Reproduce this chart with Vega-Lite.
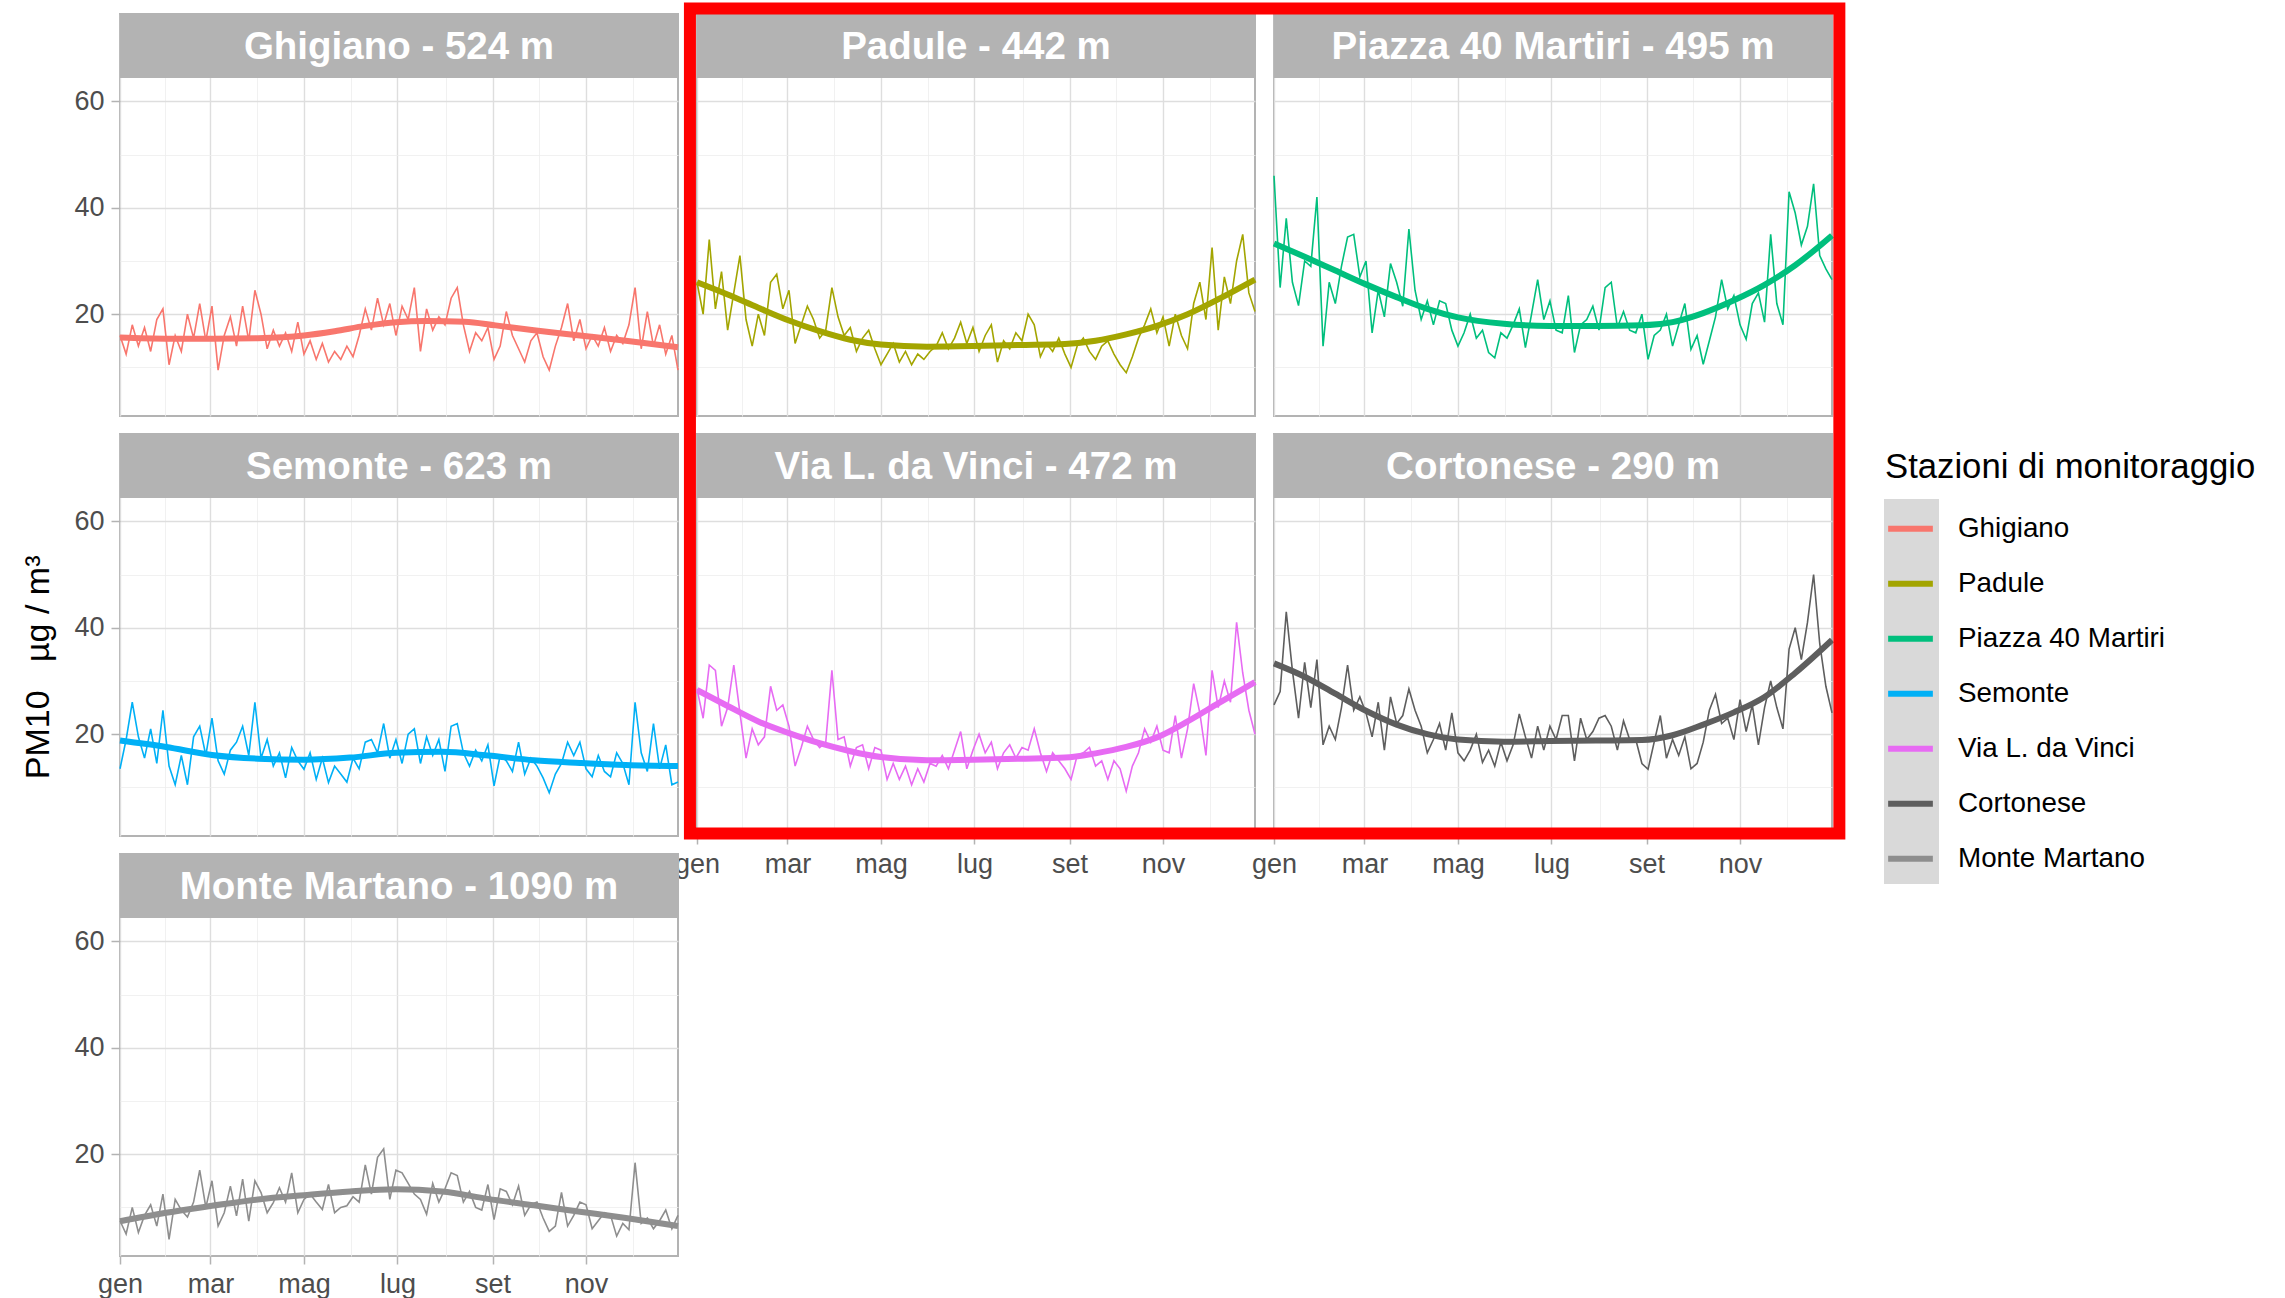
{
"$schema": "https://vega.github.io/schema/vega-lite/v6.json",
"background": "white",
"padding": {"left": 21, "top": 1, "right": 10, "bottom": 4},
"title": {"text": "PM10\u00a0\u00a0\u00a0µg / m³", "orient": "left", "anchor": "middle", "fontSize": 34, "fontWeight": "normal", "color": "#000000", "font": "Liberation Sans", "offset": 17, "dx": -17.6},
"config": {
  "font": "Liberation Sans",
  "view": {"stroke": "#B3B3B3", "strokeWidth": 2, "fill": "white"},
  "range": {"category": ["#F8766D","#A3A500","#00BF7D","#00B0F6","#E76BF3","#5E5E5E","#8E8E8E"]},
  "axis": {"domain": false, "labelFont": "Liberation Sans", "labelFontSize": 27, "labelColor": "#4D4D4D", "tickColor": "#B3B3B3", "tickWidth": 1.5}
},
"data": {"values": [
{"s":"Ghigiano","lab":"Ghigiano - 524 m"},
{"s":"Padule","lab":"Padule - 442 m"},
{"s":"Piazza 40 Martiri","lab":"Piazza 40 Martiri - 495 m"},
{"s":"Semonte","lab":"Semonte - 623 m"},
{"s":"Via L. da Vinci","lab":"Via L. da Vinci - 472 m"},
{"s":"Cortonese","lab":"Cortonese - 290 m"},
{"s":"Monte Martano","lab":"Monte Martano - 1090 m"},
{"s":"Ghigiano","d":0,"m":15.6},{"s":"Ghigiano","d":30,"m":15.4},{"s":"Ghigiano","d":60,"m":15.4},{"s":"Ghigiano","d":90,"m":15.5},{"s":"Ghigiano","d":120,"m":16.0},{"s":"Ghigiano","d":140,"m":16.8},{"s":"Ghigiano","d":160,"m":17.8},{"s":"Ghigiano","d":180,"m":18.5},{"s":"Ghigiano","d":200,"m":18.7},{"s":"Ghigiano","d":225,"m":18.6},{"s":"Ghigiano","d":245,"m":17.9},{"s":"Ghigiano","d":270,"m":17.0},{"s":"Ghigiano","d":300,"m":16.0},{"s":"Ghigiano","d":330,"m":15.0},{"s":"Ghigiano","d":364,"m":13.8},
{"s":"Padule","d":0,"m":26},{"s":"Padule","d":20,"m":23.7},{"s":"Padule","d":40,"m":21.2},{"s":"Padule","d":60,"m":18.8},{"s":"Padule","d":80,"m":16.8},{"s":"Padule","d":100,"m":15.2},{"s":"Padule","d":120,"m":14.3},{"s":"Padule","d":150,"m":13.9},{"s":"Padule","d":180,"m":14.0},{"s":"Padule","d":210,"m":14.2},{"s":"Padule","d":240,"m":14.4},{"s":"Padule","d":260,"m":15.0},{"s":"Padule","d":280,"m":16.2},{"s":"Padule","d":300,"m":17.8},{"s":"Padule","d":320,"m":20.0},{"s":"Padule","d":340,"m":22.8},{"s":"Padule","d":364,"m":26.5},
{"s":"Piazza 40 Martiri","d":0,"m":33.3},{"s":"Piazza 40 Martiri","d":20,"m":30.8},{"s":"Piazza 40 Martiri","d":40,"m":28.2},{"s":"Piazza 40 Martiri","d":60,"m":25.6},{"s":"Piazza 40 Martiri","d":80,"m":23.2},{"s":"Piazza 40 Martiri","d":100,"m":21.0},{"s":"Piazza 40 Martiri","d":120,"m":19.4},{"s":"Piazza 40 Martiri","d":150,"m":18.2},{"s":"Piazza 40 Martiri","d":180,"m":17.8},{"s":"Piazza 40 Martiri","d":210,"m":17.8},{"s":"Piazza 40 Martiri","d":240,"m":17.9},{"s":"Piazza 40 Martiri","d":260,"m":18.5},{"s":"Piazza 40 Martiri","d":280,"m":20.2},{"s":"Piazza 40 Martiri","d":300,"m":22.6},{"s":"Piazza 40 Martiri","d":320,"m":25.5},{"s":"Piazza 40 Martiri","d":340,"m":29.2},{"s":"Piazza 40 Martiri","d":364,"m":34.8},
{"s":"Semonte","d":0,"m":18.8},{"s":"Semonte","d":30,"m":17.6},{"s":"Semonte","d":60,"m":16.1},{"s":"Semonte","d":90,"m":15.4},{"s":"Semonte","d":120,"m":15.2},{"s":"Semonte","d":150,"m":15.6},{"s":"Semonte","d":180,"m":16.5},{"s":"Semonte","d":210,"m":16.7},{"s":"Semonte","d":240,"m":16.0},{"s":"Semonte","d":270,"m":15.1},{"s":"Semonte","d":300,"m":14.6},{"s":"Semonte","d":330,"m":14.2},{"s":"Semonte","d":364,"m":14.0},
{"s":"Via L. da Vinci","d":0,"m":28.3},{"s":"Via L. da Vinci","d":20,"m":25.3},{"s":"Via L. da Vinci","d":40,"m":22.4},{"s":"Via L. da Vinci","d":60,"m":20.2},{"s":"Via L. da Vinci","d":80,"m":18.3},{"s":"Via L. da Vinci","d":100,"m":16.8},{"s":"Via L. da Vinci","d":120,"m":15.7},{"s":"Via L. da Vinci","d":150,"m":15.1},{"s":"Via L. da Vinci","d":180,"m":15.2},{"s":"Via L. da Vinci","d":210,"m":15.4},{"s":"Via L. da Vinci","d":240,"m":15.6},{"s":"Via L. da Vinci","d":260,"m":16.4},{"s":"Via L. da Vinci","d":280,"m":17.6},{"s":"Via L. da Vinci","d":300,"m":19.4},{"s":"Via L. da Vinci","d":320,"m":22.4},{"s":"Via L. da Vinci","d":340,"m":25.8},{"s":"Via L. da Vinci","d":364,"m":29.8},
{"s":"Cortonese","d":0,"m":33.3},{"s":"Cortonese","d":20,"m":30.8},{"s":"Cortonese","d":40,"m":27.6},{"s":"Cortonese","d":60,"m":24.4},{"s":"Cortonese","d":80,"m":21.8},{"s":"Cortonese","d":100,"m":20.0},{"s":"Cortonese","d":120,"m":19.0},{"s":"Cortonese","d":150,"m":18.6},{"s":"Cortonese","d":180,"m":18.7},{"s":"Cortonese","d":210,"m":18.8},{"s":"Cortonese","d":240,"m":18.9},{"s":"Cortonese","d":260,"m":19.8},{"s":"Cortonese","d":280,"m":21.8},{"s":"Cortonese","d":300,"m":24.1},{"s":"Cortonese","d":320,"m":27.0},{"s":"Cortonese","d":340,"m":31.5},{"s":"Cortonese","d":364,"m":37.7},
{"s":"Monte Martano","d":0,"m":7.4},{"s":"Monte Martano","d":30,"m":9.0},{"s":"Monte Martano","d":60,"m":10.3},{"s":"Monte Martano","d":90,"m":11.5},{"s":"Monte Martano","d":120,"m":12.3},{"s":"Monte Martano","d":150,"m":13.0},{"s":"Monte Martano","d":180,"m":13.4},{"s":"Monte Martano","d":210,"m":13.0},{"s":"Monte Martano","d":240,"m":11.6},{"s":"Monte Martano","d":270,"m":10.4},{"s":"Monte Martano","d":300,"m":9.2},{"s":"Monte Martano","d":330,"m":8.0},{"s":"Monte Martano","d":364,"m":6.5},
{"s":"Ghigiano","d":0,"v":16},{"s":"Ghigiano","d":4,"v":12.5},{"s":"Ghigiano","d":8,"v":18},{"s":"Ghigiano","d":12,"v":14},{"s":"Ghigiano","d":16,"v":17.5},{"s":"Ghigiano","d":20,"v":13},{"s":"Ghigiano","d":24,"v":19},{"s":"Ghigiano","d":28,"v":21},{"s":"Ghigiano","d":32,"v":10.5},{"s":"Ghigiano","d":36,"v":16},
{"s":"Ghigiano","d":40,"v":13},{"s":"Ghigiano","d":44,"v":20},{"s":"Ghigiano","d":48,"v":15.5},{"s":"Ghigiano","d":52,"v":22},{"s":"Ghigiano","d":56,"v":15},{"s":"Ghigiano","d":60,"v":21.5},{"s":"Ghigiano","d":64,"v":9.5},{"s":"Ghigiano","d":68,"v":16},{"s":"Ghigiano","d":72,"v":19.5},{"s":"Ghigiano","d":76,"v":14},
{"s":"Ghigiano","d":80,"v":21.5},{"s":"Ghigiano","d":84,"v":15},{"s":"Ghigiano","d":88,"v":24.5},{"s":"Ghigiano","d":92,"v":20},{"s":"Ghigiano","d":96,"v":13.5},{"s":"Ghigiano","d":100,"v":17},{"s":"Ghigiano","d":104,"v":14},{"s":"Ghigiano","d":108,"v":16.5},{"s":"Ghigiano","d":112,"v":13},{"s":"Ghigiano","d":116,"v":18.5},
{"s":"Ghigiano","d":120,"v":12.5},{"s":"Ghigiano","d":124,"v":15},{"s":"Ghigiano","d":128,"v":11.5},{"s":"Ghigiano","d":132,"v":14.5},{"s":"Ghigiano","d":136,"v":11},{"s":"Ghigiano","d":140,"v":13},{"s":"Ghigiano","d":144,"v":11.5},{"s":"Ghigiano","d":148,"v":14},{"s":"Ghigiano","d":152,"v":12},{"s":"Ghigiano","d":156,"v":16},
{"s":"Ghigiano","d":160,"v":21},{"s":"Ghigiano","d":164,"v":17},{"s":"Ghigiano","d":168,"v":23},{"s":"Ghigiano","d":172,"v":18},{"s":"Ghigiano","d":176,"v":22},{"s":"Ghigiano","d":180,"v":16},{"s":"Ghigiano","d":184,"v":21.5},{"s":"Ghigiano","d":188,"v":19},{"s":"Ghigiano","d":192,"v":25},{"s":"Ghigiano","d":196,"v":13},
{"s":"Ghigiano","d":200,"v":21},{"s":"Ghigiano","d":204,"v":17},{"s":"Ghigiano","d":208,"v":19.5},{"s":"Ghigiano","d":212,"v":18},{"s":"Ghigiano","d":216,"v":23},{"s":"Ghigiano","d":220,"v":25},{"s":"Ghigiano","d":224,"v":18},{"s":"Ghigiano","d":228,"v":13},{"s":"Ghigiano","d":232,"v":16.5},{"s":"Ghigiano","d":236,"v":15},
{"s":"Ghigiano","d":240,"v":17.5},{"s":"Ghigiano","d":244,"v":11.5},{"s":"Ghigiano","d":248,"v":14},{"s":"Ghigiano","d":252,"v":20.5},{"s":"Ghigiano","d":256,"v":16},{"s":"Ghigiano","d":260,"v":13.5},{"s":"Ghigiano","d":264,"v":11},{"s":"Ghigiano","d":268,"v":15},{"s":"Ghigiano","d":272,"v":16.5},{"s":"Ghigiano","d":276,"v":12},
{"s":"Ghigiano","d":280,"v":9.5},{"s":"Ghigiano","d":284,"v":14},{"s":"Ghigiano","d":288,"v":17.5},{"s":"Ghigiano","d":292,"v":22},{"s":"Ghigiano","d":296,"v":15},{"s":"Ghigiano","d":300,"v":19},{"s":"Ghigiano","d":304,"v":13.5},{"s":"Ghigiano","d":308,"v":16},{"s":"Ghigiano","d":312,"v":14},{"s":"Ghigiano","d":316,"v":17.5},
{"s":"Ghigiano","d":320,"v":13},{"s":"Ghigiano","d":324,"v":16},{"s":"Ghigiano","d":328,"v":14.5},{"s":"Ghigiano","d":332,"v":18},{"s":"Ghigiano","d":336,"v":25},{"s":"Ghigiano","d":340,"v":13.5},{"s":"Ghigiano","d":344,"v":20.5},{"s":"Ghigiano","d":348,"v":14},{"s":"Ghigiano","d":352,"v":18},{"s":"Ghigiano","d":356,"v":12.5},
{"s":"Ghigiano","d":360,"v":16},{"s":"Ghigiano","d":364,"v":9.5},
{"s":"Padule","d":0,"v":26},{"s":"Padule","d":4,"v":20},{"s":"Padule","d":8,"v":34},{"s":"Padule","d":12,"v":21},{"s":"Padule","d":16,"v":28},{"s":"Padule","d":20,"v":17},{"s":"Padule","d":24,"v":24},{"s":"Padule","d":28,"v":31},{"s":"Padule","d":32,"v":19},{"s":"Padule","d":36,"v":14},
{"s":"Padule","d":40,"v":20},{"s":"Padule","d":44,"v":16},{"s":"Padule","d":48,"v":26},{"s":"Padule","d":52,"v":27.5},{"s":"Padule","d":56,"v":21},{"s":"Padule","d":60,"v":24.5},{"s":"Padule","d":64,"v":14.5},{"s":"Padule","d":68,"v":18},{"s":"Padule","d":72,"v":21.5},{"s":"Padule","d":76,"v":19},
{"s":"Padule","d":80,"v":15.5},{"s":"Padule","d":84,"v":17},{"s":"Padule","d":88,"v":25},{"s":"Padule","d":92,"v":19.5},{"s":"Padule","d":96,"v":16},{"s":"Padule","d":100,"v":17.5},{"s":"Padule","d":104,"v":13},{"s":"Padule","d":108,"v":15.5},{"s":"Padule","d":112,"v":17},{"s":"Padule","d":116,"v":13.5},
{"s":"Padule","d":120,"v":10.5},{"s":"Padule","d":124,"v":12.5},{"s":"Padule","d":128,"v":14.5},{"s":"Padule","d":132,"v":11},{"s":"Padule","d":136,"v":13},{"s":"Padule","d":140,"v":10.5},{"s":"Padule","d":144,"v":12.5},{"s":"Padule","d":148,"v":11.5},{"s":"Padule","d":152,"v":13},{"s":"Padule","d":156,"v":14},
{"s":"Padule","d":160,"v":16.5},{"s":"Padule","d":164,"v":13.5},{"s":"Padule","d":168,"v":15.5},{"s":"Padule","d":172,"v":18.5},{"s":"Padule","d":176,"v":14.5},{"s":"Padule","d":180,"v":17.5},{"s":"Padule","d":184,"v":13},{"s":"Padule","d":188,"v":16},{"s":"Padule","d":192,"v":18},{"s":"Padule","d":196,"v":11},
{"s":"Padule","d":200,"v":15},{"s":"Padule","d":204,"v":13.5},{"s":"Padule","d":208,"v":16.5},{"s":"Padule","d":212,"v":15},{"s":"Padule","d":216,"v":20},{"s":"Padule","d":220,"v":18},{"s":"Padule","d":224,"v":12},{"s":"Padule","d":228,"v":14.5},{"s":"Padule","d":232,"v":13},{"s":"Padule","d":236,"v":15.5},
{"s":"Padule","d":240,"v":12.5},{"s":"Padule","d":244,"v":10},{"s":"Padule","d":248,"v":14},{"s":"Padule","d":252,"v":15.5},{"s":"Padule","d":256,"v":13},{"s":"Padule","d":260,"v":11.5},{"s":"Padule","d":264,"v":14},{"s":"Padule","d":268,"v":15},{"s":"Padule","d":272,"v":12.5},{"s":"Padule","d":276,"v":10.5},
{"s":"Padule","d":280,"v":9},{"s":"Padule","d":284,"v":12},{"s":"Padule","d":288,"v":15.5},{"s":"Padule","d":292,"v":18},{"s":"Padule","d":296,"v":21},{"s":"Padule","d":300,"v":16.5},{"s":"Padule","d":304,"v":19.5},{"s":"Padule","d":308,"v":14},{"s":"Padule","d":312,"v":20},{"s":"Padule","d":316,"v":16},
{"s":"Padule","d":320,"v":13.5},{"s":"Padule","d":324,"v":22},{"s":"Padule","d":328,"v":26},{"s":"Padule","d":332,"v":19},{"s":"Padule","d":336,"v":32.5},{"s":"Padule","d":340,"v":17},{"s":"Padule","d":344,"v":27},{"s":"Padule","d":348,"v":22},{"s":"Padule","d":352,"v":30},{"s":"Padule","d":356,"v":35},
{"s":"Padule","d":360,"v":24},{"s":"Padule","d":364,"v":20.5},
{"s":"Piazza 40 Martiri","d":0,"v":46},{"s":"Piazza 40 Martiri","d":4,"v":25},{"s":"Piazza 40 Martiri","d":8,"v":38},{"s":"Piazza 40 Martiri","d":12,"v":26},{"s":"Piazza 40 Martiri","d":16,"v":21.6},{"s":"Piazza 40 Martiri","d":20,"v":30},{"s":"Piazza 40 Martiri","d":24,"v":29},{"s":"Piazza 40 Martiri","d":28,"v":42},{"s":"Piazza 40 Martiri","d":32,"v":14},{"s":"Piazza 40 Martiri","d":36,"v":26},
{"s":"Piazza 40 Martiri","d":40,"v":22},{"s":"Piazza 40 Martiri","d":44,"v":29},{"s":"Piazza 40 Martiri","d":48,"v":34.5},{"s":"Piazza 40 Martiri","d":52,"v":35},{"s":"Piazza 40 Martiri","d":56,"v":27},{"s":"Piazza 40 Martiri","d":60,"v":30},{"s":"Piazza 40 Martiri","d":64,"v":16.5},{"s":"Piazza 40 Martiri","d":68,"v":24.5},{"s":"Piazza 40 Martiri","d":72,"v":19.5},{"s":"Piazza 40 Martiri","d":76,"v":29.5},
{"s":"Piazza 40 Martiri","d":80,"v":26},{"s":"Piazza 40 Martiri","d":84,"v":21.5},{"s":"Piazza 40 Martiri","d":88,"v":36},{"s":"Piazza 40 Martiri","d":92,"v":24.5},{"s":"Piazza 40 Martiri","d":96,"v":19},{"s":"Piazza 40 Martiri","d":100,"v":22.5},{"s":"Piazza 40 Martiri","d":104,"v":18},{"s":"Piazza 40 Martiri","d":108,"v":22.5},{"s":"Piazza 40 Martiri","d":112,"v":22},{"s":"Piazza 40 Martiri","d":116,"v":17},
{"s":"Piazza 40 Martiri","d":120,"v":14},{"s":"Piazza 40 Martiri","d":124,"v":16.5},{"s":"Piazza 40 Martiri","d":128,"v":20},{"s":"Piazza 40 Martiri","d":132,"v":15.5},{"s":"Piazza 40 Martiri","d":136,"v":17},{"s":"Piazza 40 Martiri","d":140,"v":12.8},{"s":"Piazza 40 Martiri","d":144,"v":11.8},{"s":"Piazza 40 Martiri","d":148,"v":16.5},{"s":"Piazza 40 Martiri","d":152,"v":15.5},{"s":"Piazza 40 Martiri","d":156,"v":18},
{"s":"Piazza 40 Martiri","d":160,"v":21},{"s":"Piazza 40 Martiri","d":164,"v":13.7},{"s":"Piazza 40 Martiri","d":168,"v":20},{"s":"Piazza 40 Martiri","d":172,"v":26.5},{"s":"Piazza 40 Martiri","d":176,"v":19},{"s":"Piazza 40 Martiri","d":180,"v":22.5},{"s":"Piazza 40 Martiri","d":184,"v":17},{"s":"Piazza 40 Martiri","d":188,"v":16.5},{"s":"Piazza 40 Martiri","d":192,"v":23.5},{"s":"Piazza 40 Martiri","d":196,"v":12.8},
{"s":"Piazza 40 Martiri","d":200,"v":18},{"s":"Piazza 40 Martiri","d":204,"v":19},{"s":"Piazza 40 Martiri","d":208,"v":21.5},{"s":"Piazza 40 Martiri","d":212,"v":17},{"s":"Piazza 40 Martiri","d":216,"v":25},{"s":"Piazza 40 Martiri","d":220,"v":26},{"s":"Piazza 40 Martiri","d":224,"v":17.5},{"s":"Piazza 40 Martiri","d":228,"v":20.5},{"s":"Piazza 40 Martiri","d":232,"v":17},{"s":"Piazza 40 Martiri","d":236,"v":16.5},
{"s":"Piazza 40 Martiri","d":240,"v":20},{"s":"Piazza 40 Martiri","d":244,"v":11.5},{"s":"Piazza 40 Martiri","d":248,"v":16},{"s":"Piazza 40 Martiri","d":252,"v":17},{"s":"Piazza 40 Martiri","d":256,"v":20},{"s":"Piazza 40 Martiri","d":260,"v":14},{"s":"Piazza 40 Martiri","d":264,"v":18},{"s":"Piazza 40 Martiri","d":268,"v":22},{"s":"Piazza 40 Martiri","d":272,"v":13.4},{"s":"Piazza 40 Martiri","d":276,"v":16},
{"s":"Piazza 40 Martiri","d":280,"v":10.6},{"s":"Piazza 40 Martiri","d":284,"v":15},{"s":"Piazza 40 Martiri","d":288,"v":19.5},{"s":"Piazza 40 Martiri","d":292,"v":26.5},{"s":"Piazza 40 Martiri","d":296,"v":21},{"s":"Piazza 40 Martiri","d":300,"v":23.5},{"s":"Piazza 40 Martiri","d":304,"v":18},{"s":"Piazza 40 Martiri","d":308,"v":15.3},{"s":"Piazza 40 Martiri","d":312,"v":22},{"s":"Piazza 40 Martiri","d":316,"v":24},
{"s":"Piazza 40 Martiri","d":320,"v":18.5},{"s":"Piazza 40 Martiri","d":324,"v":35},{"s":"Piazza 40 Martiri","d":328,"v":22},{"s":"Piazza 40 Martiri","d":332,"v":18},{"s":"Piazza 40 Martiri","d":336,"v":43},{"s":"Piazza 40 Martiri","d":340,"v":39},{"s":"Piazza 40 Martiri","d":344,"v":33},{"s":"Piazza 40 Martiri","d":348,"v":36.5},{"s":"Piazza 40 Martiri","d":352,"v":44.5},{"s":"Piazza 40 Martiri","d":356,"v":31},
{"s":"Piazza 40 Martiri","d":360,"v":28.5},{"s":"Piazza 40 Martiri","d":364,"v":26.5},
{"s":"Semonte","d":0,"v":13.5},{"s":"Semonte","d":4,"v":19},{"s":"Semonte","d":8,"v":26},{"s":"Semonte","d":12,"v":19.5},{"s":"Semonte","d":16,"v":15.5},{"s":"Semonte","d":20,"v":21},{"s":"Semonte","d":24,"v":14.5},{"s":"Semonte","d":28,"v":24.5},{"s":"Semonte","d":32,"v":14},{"s":"Semonte","d":36,"v":10.5},
{"s":"Semonte","d":40,"v":16},{"s":"Semonte","d":44,"v":10.5},{"s":"Semonte","d":48,"v":19.5},{"s":"Semonte","d":52,"v":21.5},{"s":"Semonte","d":56,"v":16},{"s":"Semonte","d":60,"v":23},{"s":"Semonte","d":64,"v":15},{"s":"Semonte","d":68,"v":12.5},{"s":"Semonte","d":72,"v":17},{"s":"Semonte","d":76,"v":18.5},
{"s":"Semonte","d":80,"v":21.5},{"s":"Semonte","d":84,"v":16},{"s":"Semonte","d":88,"v":26},{"s":"Semonte","d":92,"v":15.5},{"s":"Semonte","d":96,"v":19},{"s":"Semonte","d":100,"v":14},{"s":"Semonte","d":104,"v":16.5},{"s":"Semonte","d":108,"v":11.8},{"s":"Semonte","d":112,"v":17.5},{"s":"Semonte","d":116,"v":15},
{"s":"Semonte","d":120,"v":13.4},{"s":"Semonte","d":124,"v":16.5},{"s":"Semonte","d":128,"v":11.5},{"s":"Semonte","d":132,"v":15.5},{"s":"Semonte","d":136,"v":10.9},{"s":"Semonte","d":140,"v":14},{"s":"Semonte","d":144,"v":12.5},{"s":"Semonte","d":148,"v":11},{"s":"Semonte","d":152,"v":15.5},{"s":"Semonte","d":156,"v":13.5},
{"s":"Semonte","d":160,"v":18.5},{"s":"Semonte","d":164,"v":19},{"s":"Semonte","d":168,"v":16.5},{"s":"Semonte","d":172,"v":22},{"s":"Semonte","d":176,"v":15.5},{"s":"Semonte","d":180,"v":19},{"s":"Semonte","d":184,"v":14.5},{"s":"Semonte","d":188,"v":20},{"s":"Semonte","d":192,"v":21},{"s":"Semonte","d":196,"v":14.5},
{"s":"Semonte","d":200,"v":19.5},{"s":"Semonte","d":204,"v":16},{"s":"Semonte","d":208,"v":19},{"s":"Semonte","d":212,"v":13},{"s":"Semonte","d":216,"v":21.5},{"s":"Semonte","d":220,"v":22},{"s":"Semonte","d":224,"v":16.5},{"s":"Semonte","d":228,"v":14},{"s":"Semonte","d":232,"v":17},{"s":"Semonte","d":236,"v":15},
{"s":"Semonte","d":240,"v":18},{"s":"Semonte","d":244,"v":10.3},{"s":"Semonte","d":248,"v":16},{"s":"Semonte","d":252,"v":15},{"s":"Semonte","d":256,"v":13},{"s":"Semonte","d":260,"v":18.5},{"s":"Semonte","d":264,"v":12.5},{"s":"Semonte","d":268,"v":15.5},{"s":"Semonte","d":272,"v":14},{"s":"Semonte","d":276,"v":11.8},
{"s":"Semonte","d":280,"v":9},{"s":"Semonte","d":284,"v":12.5},{"s":"Semonte","d":288,"v":14.5},{"s":"Semonte","d":292,"v":18.5},{"s":"Semonte","d":296,"v":16},{"s":"Semonte","d":300,"v":18.5},{"s":"Semonte","d":304,"v":13.5},{"s":"Semonte","d":308,"v":12},{"s":"Semonte","d":312,"v":16},{"s":"Semonte","d":316,"v":13},
{"s":"Semonte","d":320,"v":12},{"s":"Semonte","d":324,"v":16.5},{"s":"Semonte","d":328,"v":14.5},{"s":"Semonte","d":332,"v":10.5},{"s":"Semonte","d":336,"v":26},{"s":"Semonte","d":340,"v":16.5},{"s":"Semonte","d":344,"v":13},{"s":"Semonte","d":348,"v":22},{"s":"Semonte","d":352,"v":13.5},{"s":"Semonte","d":356,"v":18},
{"s":"Semonte","d":360,"v":10.5},{"s":"Semonte","d":364,"v":11},
{"s":"Via L. da Vinci","d":0,"v":28.5},{"s":"Via L. da Vinci","d":4,"v":23},{"s":"Via L. da Vinci","d":8,"v":33},{"s":"Via L. da Vinci","d":12,"v":32},{"s":"Via L. da Vinci","d":16,"v":21.5},{"s":"Via L. da Vinci","d":20,"v":25},{"s":"Via L. da Vinci","d":24,"v":33},{"s":"Via L. da Vinci","d":28,"v":24},{"s":"Via L. da Vinci","d":32,"v":15.5},{"s":"Via L. da Vinci","d":36,"v":21},
{"s":"Via L. da Vinci","d":40,"v":18},{"s":"Via L. da Vinci","d":44,"v":19.5},{"s":"Via L. da Vinci","d":48,"v":29},{"s":"Via L. da Vinci","d":52,"v":24.5},{"s":"Via L. da Vinci","d":56,"v":25.5},{"s":"Via L. da Vinci","d":60,"v":21.5},{"s":"Via L. da Vinci","d":64,"v":14},{"s":"Via L. da Vinci","d":68,"v":17.5},{"s":"Via L. da Vinci","d":72,"v":21.5},{"s":"Via L. da Vinci","d":76,"v":19},
{"s":"Via L. da Vinci","d":80,"v":17.5},{"s":"Via L. da Vinci","d":84,"v":18.5},{"s":"Via L. da Vinci","d":88,"v":32},{"s":"Via L. da Vinci","d":92,"v":19},{"s":"Via L. da Vinci","d":96,"v":19.5},{"s":"Via L. da Vinci","d":100,"v":14},{"s":"Via L. da Vinci","d":104,"v":17.5},{"s":"Via L. da Vinci","d":108,"v":18},{"s":"Via L. da Vinci","d":112,"v":13.5},{"s":"Via L. da Vinci","d":116,"v":17.5},
{"s":"Via L. da Vinci","d":120,"v":17},{"s":"Via L. da Vinci","d":124,"v":11.5},{"s":"Via L. da Vinci","d":128,"v":14.5},{"s":"Via L. da Vinci","d":132,"v":11.5},{"s":"Via L. da Vinci","d":136,"v":14},{"s":"Via L. da Vinci","d":140,"v":10.5},{"s":"Via L. da Vinci","d":144,"v":13.5},{"s":"Via L. da Vinci","d":148,"v":11},{"s":"Via L. da Vinci","d":152,"v":14.5},{"s":"Via L. da Vinci","d":156,"v":14},
{"s":"Via L. da Vinci","d":160,"v":16},{"s":"Via L. da Vinci","d":164,"v":13.5},{"s":"Via L. da Vinci","d":168,"v":17},{"s":"Via L. da Vinci","d":172,"v":20.5},{"s":"Via L. da Vinci","d":176,"v":13.5},{"s":"Via L. da Vinci","d":180,"v":17},{"s":"Via L. da Vinci","d":184,"v":20},{"s":"Via L. da Vinci","d":188,"v":16.5},{"s":"Via L. da Vinci","d":192,"v":18.5},{"s":"Via L. da Vinci","d":196,"v":13.5},
{"s":"Via L. da Vinci","d":200,"v":16.5},{"s":"Via L. da Vinci","d":204,"v":18},{"s":"Via L. da Vinci","d":208,"v":15.5},{"s":"Via L. da Vinci","d":212,"v":17.5},{"s":"Via L. da Vinci","d":216,"v":17},{"s":"Via L. da Vinci","d":220,"v":21},{"s":"Via L. da Vinci","d":224,"v":16.5},{"s":"Via L. da Vinci","d":228,"v":13},{"s":"Via L. da Vinci","d":232,"v":16.5},{"s":"Via L. da Vinci","d":236,"v":15},
{"s":"Via L. da Vinci","d":240,"v":13.5},{"s":"Via L. da Vinci","d":244,"v":11.5},{"s":"Via L. da Vinci","d":248,"v":16},{"s":"Via L. da Vinci","d":252,"v":16.5},{"s":"Via L. da Vinci","d":256,"v":17.5},{"s":"Via L. da Vinci","d":260,"v":14},{"s":"Via L. da Vinci","d":264,"v":15},{"s":"Via L. da Vinci","d":268,"v":11.5},{"s":"Via L. da Vinci","d":272,"v":15},{"s":"Via L. da Vinci","d":276,"v":13.5},
{"s":"Via L. da Vinci","d":280,"v":9.3},{"s":"Via L. da Vinci","d":284,"v":14},{"s":"Via L. da Vinci","d":288,"v":16.5},{"s":"Via L. da Vinci","d":292,"v":21},{"s":"Via L. da Vinci","d":296,"v":18.5},{"s":"Via L. da Vinci","d":300,"v":21.5},{"s":"Via L. da Vinci","d":304,"v":17},{"s":"Via L. da Vinci","d":308,"v":16.5},{"s":"Via L. da Vinci","d":312,"v":23.5},{"s":"Via L. da Vinci","d":316,"v":15.5},
{"s":"Via L. da Vinci","d":320,"v":21},{"s":"Via L. da Vinci","d":324,"v":29.5},{"s":"Via L. da Vinci","d":328,"v":24},{"s":"Via L. da Vinci","d":332,"v":16},{"s":"Via L. da Vinci","d":336,"v":32},{"s":"Via L. da Vinci","d":340,"v":25},{"s":"Via L. da Vinci","d":344,"v":30},{"s":"Via L. da Vinci","d":348,"v":26},{"s":"Via L. da Vinci","d":352,"v":41},{"s":"Via L. da Vinci","d":356,"v":31.5},
{"s":"Via L. da Vinci","d":360,"v":24.5},{"s":"Via L. da Vinci","d":364,"v":20},
{"s":"Cortonese","d":0,"v":25.5},{"s":"Cortonese","d":4,"v":28},{"s":"Cortonese","d":8,"v":43},{"s":"Cortonese","d":12,"v":32},{"s":"Cortonese","d":16,"v":23},{"s":"Cortonese","d":20,"v":33.5},{"s":"Cortonese","d":24,"v":25},{"s":"Cortonese","d":28,"v":34},{"s":"Cortonese","d":32,"v":18},{"s":"Cortonese","d":36,"v":21.5},
{"s":"Cortonese","d":40,"v":19},{"s":"Cortonese","d":44,"v":25},{"s":"Cortonese","d":48,"v":33},{"s":"Cortonese","d":52,"v":24.5},{"s":"Cortonese","d":56,"v":27},{"s":"Cortonese","d":60,"v":24},{"s":"Cortonese","d":64,"v":19.5},{"s":"Cortonese","d":68,"v":26},{"s":"Cortonese","d":72,"v":17},{"s":"Cortonese","d":76,"v":27},
{"s":"Cortonese","d":80,"v":22},{"s":"Cortonese","d":84,"v":23.5},{"s":"Cortonese","d":88,"v":28.5},{"s":"Cortonese","d":92,"v":24.5},{"s":"Cortonese","d":96,"v":21.5},{"s":"Cortonese","d":100,"v":16.5},{"s":"Cortonese","d":104,"v":19},{"s":"Cortonese","d":108,"v":22},{"s":"Cortonese","d":112,"v":17},{"s":"Cortonese","d":116,"v":24},
{"s":"Cortonese","d":120,"v":16.5},{"s":"Cortonese","d":124,"v":15},{"s":"Cortonese","d":128,"v":17},{"s":"Cortonese","d":132,"v":20},{"s":"Cortonese","d":136,"v":14.7},{"s":"Cortonese","d":140,"v":17},{"s":"Cortonese","d":144,"v":14},{"s":"Cortonese","d":148,"v":18.5},{"s":"Cortonese","d":152,"v":15},{"s":"Cortonese","d":156,"v":18},
{"s":"Cortonese","d":160,"v":23.8},{"s":"Cortonese","d":164,"v":19.5},{"s":"Cortonese","d":168,"v":15.5},{"s":"Cortonese","d":172,"v":21.5},{"s":"Cortonese","d":176,"v":17},{"s":"Cortonese","d":180,"v":21.5},{"s":"Cortonese","d":184,"v":19},{"s":"Cortonese","d":188,"v":23.5},{"s":"Cortonese","d":192,"v":23.5},{"s":"Cortonese","d":196,"v":15},
{"s":"Cortonese","d":200,"v":23},{"s":"Cortonese","d":204,"v":19},{"s":"Cortonese","d":208,"v":20.5},{"s":"Cortonese","d":212,"v":23},{"s":"Cortonese","d":216,"v":23.5},{"s":"Cortonese","d":220,"v":21.5},{"s":"Cortonese","d":224,"v":17},{"s":"Cortonese","d":228,"v":22.5},{"s":"Cortonese","d":232,"v":19},{"s":"Cortonese","d":236,"v":19},
{"s":"Cortonese","d":240,"v":14.5},{"s":"Cortonese","d":244,"v":13.4},{"s":"Cortonese","d":248,"v":18.5},{"s":"Cortonese","d":252,"v":23.5},{"s":"Cortonese","d":256,"v":15.5},{"s":"Cortonese","d":260,"v":19},{"s":"Cortonese","d":264,"v":16},{"s":"Cortonese","d":268,"v":19.5},{"s":"Cortonese","d":272,"v":13.5},{"s":"Cortonese","d":276,"v":14.5},
{"s":"Cortonese","d":280,"v":18.5},{"s":"Cortonese","d":284,"v":24.5},{"s":"Cortonese","d":288,"v":27.5},{"s":"Cortonese","d":292,"v":22},{"s":"Cortonese","d":296,"v":23},{"s":"Cortonese","d":300,"v":19},{"s":"Cortonese","d":304,"v":26.5},{"s":"Cortonese","d":308,"v":20.5},{"s":"Cortonese","d":312,"v":25.5},{"s":"Cortonese","d":316,"v":18},
{"s":"Cortonese","d":320,"v":25},{"s":"Cortonese","d":324,"v":30},{"s":"Cortonese","d":328,"v":25},{"s":"Cortonese","d":332,"v":21},{"s":"Cortonese","d":336,"v":36},{"s":"Cortonese","d":340,"v":40},{"s":"Cortonese","d":344,"v":34},{"s":"Cortonese","d":348,"v":41},{"s":"Cortonese","d":352,"v":50},{"s":"Cortonese","d":356,"v":37},
{"s":"Cortonese","d":360,"v":29},{"s":"Cortonese","d":364,"v":24},
{"s":"Monte Martano","d":0,"v":7.5},{"s":"Monte Martano","d":4,"v":5},{"s":"Monte Martano","d":8,"v":10},{"s":"Monte Martano","d":12,"v":5.3},{"s":"Monte Martano","d":16,"v":8.5},{"s":"Monte Martano","d":20,"v":10.5},{"s":"Monte Martano","d":24,"v":6.5},{"s":"Monte Martano","d":28,"v":12.5},{"s":"Monte Martano","d":32,"v":4},{"s":"Monte Martano","d":36,"v":11.5},
{"s":"Monte Martano","d":40,"v":9.5},{"s":"Monte Martano","d":44,"v":8.2},{"s":"Monte Martano","d":48,"v":11},{"s":"Monte Martano","d":52,"v":17},{"s":"Monte Martano","d":56,"v":10},{"s":"Monte Martano","d":60,"v":15},{"s":"Monte Martano","d":64,"v":6.5},{"s":"Monte Martano","d":68,"v":9},{"s":"Monte Martano","d":72,"v":14},{"s":"Monte Martano","d":76,"v":8.4},
{"s":"Monte Martano","d":80,"v":15.3},{"s":"Monte Martano","d":84,"v":7.4},{"s":"Monte Martano","d":88,"v":15},{"s":"Monte Martano","d":92,"v":12.8},{"s":"Monte Martano","d":96,"v":9},{"s":"Monte Martano","d":100,"v":10.9},{"s":"Monte Martano","d":104,"v":13.7},{"s":"Monte Martano","d":108,"v":11},{"s":"Monte Martano","d":112,"v":16.5},{"s":"Monte Martano","d":116,"v":9},
{"s":"Monte Martano","d":120,"v":11.5},{"s":"Monte Martano","d":124,"v":12.5},{"s":"Monte Martano","d":128,"v":11},{"s":"Monte Martano","d":132,"v":9.6},{"s":"Monte Martano","d":136,"v":14.3},{"s":"Monte Martano","d":140,"v":9},{"s":"Monte Martano","d":144,"v":10},{"s":"Monte Martano","d":148,"v":10.3},{"s":"Monte Martano","d":152,"v":12},{"s":"Monte Martano","d":156,"v":11},
{"s":"Monte Martano","d":160,"v":18},{"s":"Monte Martano","d":164,"v":12.5},{"s":"Monte Martano","d":168,"v":19.4},{"s":"Monte Martano","d":172,"v":21},{"s":"Monte Martano","d":176,"v":11.5},{"s":"Monte Martano","d":180,"v":17},{"s":"Monte Martano","d":184,"v":16.5},{"s":"Monte Martano","d":188,"v":14.5},{"s":"Monte Martano","d":192,"v":12.5},{"s":"Monte Martano","d":196,"v":11.5},
{"s":"Monte Martano","d":200,"v":8.7},{"s":"Monte Martano","d":204,"v":14.5},{"s":"Monte Martano","d":208,"v":11},{"s":"Monte Martano","d":212,"v":13.5},{"s":"Monte Martano","d":216,"v":16.5},{"s":"Monte Martano","d":220,"v":16},{"s":"Monte Martano","d":224,"v":11},{"s":"Monte Martano","d":228,"v":13},{"s":"Monte Martano","d":232,"v":10},{"s":"Monte Martano","d":236,"v":9.5},
{"s":"Monte Martano","d":240,"v":14.3},{"s":"Monte Martano","d":244,"v":7.7},{"s":"Monte Martano","d":248,"v":13.5},{"s":"Monte Martano","d":252,"v":13},{"s":"Monte Martano","d":256,"v":10.5},{"s":"Monte Martano","d":260,"v":14},{"s":"Monte Martano","d":264,"v":8.5},{"s":"Monte Martano","d":268,"v":10.5},{"s":"Monte Martano","d":272,"v":11},{"s":"Monte Martano","d":276,"v":8},
{"s":"Monte Martano","d":280,"v":5.5},{"s":"Monte Martano","d":284,"v":6.5},{"s":"Monte Martano","d":288,"v":12.8},{"s":"Monte Martano","d":292,"v":6.5},{"s":"Monte Martano","d":296,"v":8.5},{"s":"Monte Martano","d":300,"v":11},{"s":"Monte Martano","d":304,"v":10.5},{"s":"Monte Martano","d":308,"v":6},{"s":"Monte Martano","d":312,"v":7.5},{"s":"Monte Martano","d":316,"v":9},
{"s":"Monte Martano","d":320,"v":8.5},{"s":"Monte Martano","d":324,"v":4.6},{"s":"Monte Martano","d":328,"v":7},{"s":"Monte Martano","d":332,"v":5.8},{"s":"Monte Martano","d":336,"v":18.4},{"s":"Monte Martano","d":340,"v":7},{"s":"Monte Martano","d":344,"v":8},{"s":"Monte Martano","d":348,"v":6},{"s":"Monte Martano","d":352,"v":7.5},{"s":"Monte Martano","d":356,"v":9.5},
{"s":"Monte Martano","d":360,"v":6},{"s":"Monte Martano","d":364,"v":8.5}
]},
"columns": 3,
"spacing": {"row": 18, "column": 19},
"bounds": "flush",
"concat": [
{"width": 558, "height": 402, "transform": [{"filter": "datum.s == 'Ghigiano'"}], "layer": [
  {"transform": [{"filter": "isValid(datum.v)"}], "mark": {"type": "line", "strokeWidth": 1.6}, "encoding": {
    "x": {"field": "d", "type": "quantitative", "scale": {"domain": [0, 364], "nice": false, "zero": false}, "axis": {"title": null, "values": [0,29.5,59,89.5,120,150.5,181,212.5,243,273.5,304,334.5], "labels": false, "ticks": false, "gridColor": {"condition": {"test": "datum.value % 1 == 0", "value": "#DEDEDE"}, "value": "#EDEDED"}, "gridWidth": {"condition": {"test": "datum.value % 1 == 0", "value": 1.4}, "value": 0.8}}},
    "y": {"field": "v", "type": "quantitative", "scale": {"domain": [0.87, 76.4], "nice": false, "zero": false}, "axis": {"title": null, "values": [10,20,30,40,50,60], "labelExpr": "datum.value % 20 == 0 ? datum.label : ''", "labelOverlap": false, "tickSize": 9, "labelPadding": 7, "tickOpacity": {"condition": {"test": "datum.value % 20 == 0", "value": 1}, "value": 0}, "gridColor": {"condition": {"test": "datum.value % 20 == 0", "value": "#DEDEDE"}, "value": "#EDEDED"}, "gridWidth": {"condition": {"test": "datum.value % 20 == 0", "value": 1.4}, "value": 0.8}}},
    "color": {"field": "s", "type": "nominal", "scale": {"domain": ["Ghigiano","Padule","Piazza 40 Martiri","Semonte","Via L. da Vinci","Cortonese","Monte Martano"]},
      "legend": {"orient": "none", "legendX": 1765, "legendY": 437, "title": "Stazioni di monitoraggio", "titleFontSize": 34.7, "titleFontWeight": "normal", "titleColor": "#000000", "titleFont": "Liberation Sans", "titleLimit": 1000, "titlePadding": 17.5, "labelFontSize": 27.8, "labelColor": "#000000", "labelFont": "Liberation Sans", "labelLimit": 1000, "labelOffset": 22, "symbolType": "stroke", "symbolSize": 2000, "symbolStrokeWidth": 6, "rowPadding": 15, "padding": 0, "zindex": 2, "encode": {"symbols": {"update": {"strokeWidth": {"value": 6}}}}}}}},
  {"transform": [{"filter": "isValid(datum.lab)"}], "mark": {"type": "rect", "fill": "#B3B3B3"}, "encoding": {"x": {"datum": 0, "type": "quantitative", "scale": {"domain": [0, 364], "nice": false, "zero": false}}, "x2": {"datum": 364}, "y": {"datum": 64.37, "type": "quantitative", "scale": {"domain": [0.87, 76.4], "nice": false, "zero": false}}, "y2": {"datum": 76.4}}},
  {"transform": [{"filter": "isValid(datum.lab)"}], "mark": {"type": "text", "color": "#FFFFFF", "fontSize": 38.5, "fontWeight": "bold", "align": "center", "baseline": "alphabetic", "font": "Liberation Sans"}, "encoding": {"x": {"datum": 182, "type": "quantitative", "scale": {"domain": [0, 364], "nice": false, "zero": false}}, "y": {"datum": 67.94, "type": "quantitative", "scale": {"domain": [0.87, 76.4], "nice": false, "zero": false}}, "text": {"field": "lab", "type": "nominal"}}},
  {"transform": [{"filter": "isValid(datum.m)"}], "mark": {"type": "line", "strokeWidth": 6, "interpolate": "monotone"}, "encoding": {"x": {"field": "d", "type": "quantitative", "scale": {"domain": [0, 364], "nice": false, "zero": false}}, "y": {"field": "m", "type": "quantitative", "scale": {"domain": [0.87, 76.4], "nice": false, "zero": false}}, "color": {"field": "s", "type": "nominal", "scale": {"domain": ["Ghigiano","Padule","Piazza 40 Martiri","Semonte","Via L. da Vinci","Cortonese","Monte Martano"]}, "legend": null}}},
  {"data": {"values": [{"k":"a"}]}, "mark": {"type": "point", "filled": true, "color": "#D9D9D9", "opacity": 0}, "encoding": {"x": {"datum": 182, "type": "quantitative", "scale": {"domain": [0, 364], "nice": false, "zero": false}}, "y": {"datum": 30, "type": "quantitative", "scale": {"domain": [0.87, 76.4], "nice": false, "zero": false}},
    "shape": {"field": "k", "type": "nominal", "scale": {"range": ["M-1,-7H1V7H-1Z"]}, "legend": {"orient": "none", "legendX": 1764, "legendY": 650, "title": null, "labelExpr": "''", "symbolSize": 3025, "symbolFillColor": "#D9D9D9", "symbolStrokeWidth": 0, "symbolOpacity": 1, "rowPadding": 0, "padding": 0, "labelOffset": 0, "labelFontSize": 1, "zindex": 1}}}}
]},
{"width": 558, "height": 402, "transform": [{"filter": "datum.s == 'Padule'"}], "layer": [
  {"transform": [{"filter": "isValid(datum.v)"}], "mark": {"type": "line", "strokeWidth": 1.6}, "encoding": {
    "x": {"field": "d", "type": "quantitative", "scale": {"domain": [0, 364], "nice": false, "zero": false}, "axis": {"title": null, "values": [0,29.5,59,89.5,120,150.5,181,212.5,243,273.5,304,334.5], "labels": false, "ticks": false, "gridColor": {"condition": {"test": "datum.value % 1 == 0", "value": "#DEDEDE"}, "value": "#EDEDED"}, "gridWidth": {"condition": {"test": "datum.value % 1 == 0", "value": 1.4}, "value": 0.8}}},
    "y": {"field": "v", "type": "quantitative", "scale": {"domain": [0.87, 76.4], "nice": false, "zero": false}, "axis": {"title": null, "values": [10,20,30,40,50,60], "labels": false, "ticks": false, "gridColor": {"condition": {"test": "datum.value % 20 == 0", "value": "#DEDEDE"}, "value": "#EDEDED"}, "gridWidth": {"condition": {"test": "datum.value % 20 == 0", "value": 1.4}, "value": 0.8}}},
    "color": {"field": "s", "type": "nominal", "scale": {"domain": ["Ghigiano","Padule","Piazza 40 Martiri","Semonte","Via L. da Vinci","Cortonese","Monte Martano"]}, "legend": null}}},
  {"transform": [{"filter": "isValid(datum.lab)"}], "mark": {"type": "rect", "fill": "#B3B3B3"}, "encoding": {"x": {"datum": 0, "type": "quantitative", "scale": {"domain": [0, 364], "nice": false, "zero": false}}, "x2": {"datum": 364}, "y": {"datum": 64.37, "type": "quantitative", "scale": {"domain": [0.87, 76.4], "nice": false, "zero": false}}, "y2": {"datum": 76.4}}},
  {"transform": [{"filter": "isValid(datum.lab)"}], "mark": {"type": "text", "color": "#FFFFFF", "fontSize": 38.5, "fontWeight": "bold", "align": "center", "baseline": "alphabetic", "font": "Liberation Sans"}, "encoding": {"x": {"datum": 182, "type": "quantitative", "scale": {"domain": [0, 364], "nice": false, "zero": false}}, "y": {"datum": 67.94, "type": "quantitative", "scale": {"domain": [0.87, 76.4], "nice": false, "zero": false}}, "text": {"field": "lab", "type": "nominal"}}},
  {"transform": [{"filter": "isValid(datum.m)"}], "mark": {"type": "line", "strokeWidth": 6, "interpolate": "monotone"}, "encoding": {"x": {"field": "d", "type": "quantitative", "scale": {"domain": [0, 364], "nice": false, "zero": false}}, "y": {"field": "m", "type": "quantitative", "scale": {"domain": [0.87, 76.4], "nice": false, "zero": false}}, "color": {"field": "s", "type": "nominal", "scale": {"domain": ["Ghigiano","Padule","Piazza 40 Martiri","Semonte","Via L. da Vinci","Cortonese","Monte Martano"]}, "legend": null}}}
]},
{"width": 558, "height": 402, "transform": [{"filter": "datum.s == 'Piazza 40 Martiri'"}], "layer": [
  {"transform": [{"filter": "isValid(datum.v)"}], "mark": {"type": "line", "strokeWidth": 1.6}, "encoding": {
    "x": {"field": "d", "type": "quantitative", "scale": {"domain": [0, 364], "nice": false, "zero": false}, "axis": {"title": null, "values": [0,29.5,59,89.5,120,150.5,181,212.5,243,273.5,304,334.5], "labels": false, "ticks": false, "gridColor": {"condition": {"test": "datum.value % 1 == 0", "value": "#DEDEDE"}, "value": "#EDEDED"}, "gridWidth": {"condition": {"test": "datum.value % 1 == 0", "value": 1.4}, "value": 0.8}}},
    "y": {"field": "v", "type": "quantitative", "scale": {"domain": [0.87, 76.4], "nice": false, "zero": false}, "axis": {"title": null, "values": [10,20,30,40,50,60], "labels": false, "ticks": false, "gridColor": {"condition": {"test": "datum.value % 20 == 0", "value": "#DEDEDE"}, "value": "#EDEDED"}, "gridWidth": {"condition": {"test": "datum.value % 20 == 0", "value": 1.4}, "value": 0.8}}},
    "color": {"field": "s", "type": "nominal", "scale": {"domain": ["Ghigiano","Padule","Piazza 40 Martiri","Semonte","Via L. da Vinci","Cortonese","Monte Martano"]}, "legend": null}}},
  {"transform": [{"filter": "isValid(datum.lab)"}], "mark": {"type": "rect", "fill": "#B3B3B3"}, "encoding": {"x": {"datum": 0, "type": "quantitative", "scale": {"domain": [0, 364], "nice": false, "zero": false}}, "x2": {"datum": 364}, "y": {"datum": 64.37, "type": "quantitative", "scale": {"domain": [0.87, 76.4], "nice": false, "zero": false}}, "y2": {"datum": 76.4}}},
  {"transform": [{"filter": "isValid(datum.lab)"}], "mark": {"type": "text", "color": "#FFFFFF", "fontSize": 38.5, "fontWeight": "bold", "align": "center", "baseline": "alphabetic", "font": "Liberation Sans"}, "encoding": {"x": {"datum": 182, "type": "quantitative", "scale": {"domain": [0, 364], "nice": false, "zero": false}}, "y": {"datum": 67.94, "type": "quantitative", "scale": {"domain": [0.87, 76.4], "nice": false, "zero": false}}, "text": {"field": "lab", "type": "nominal"}}},
  {"transform": [{"filter": "isValid(datum.m)"}], "mark": {"type": "line", "strokeWidth": 6, "interpolate": "monotone"}, "encoding": {"x": {"field": "d", "type": "quantitative", "scale": {"domain": [0, 364], "nice": false, "zero": false}}, "y": {"field": "m", "type": "quantitative", "scale": {"domain": [0.87, 76.4], "nice": false, "zero": false}}, "color": {"field": "s", "type": "nominal", "scale": {"domain": ["Ghigiano","Padule","Piazza 40 Martiri","Semonte","Via L. da Vinci","Cortonese","Monte Martano"]}, "legend": null}}}
]},
{"width": 558, "height": 402, "transform": [{"filter": "datum.s == 'Semonte'"}], "layer": [
  {"transform": [{"filter": "isValid(datum.v)"}], "mark": {"type": "line", "strokeWidth": 1.6}, "encoding": {
    "x": {"field": "d", "type": "quantitative", "scale": {"domain": [0, 364], "nice": false, "zero": false}, "axis": {"title": null, "values": [0,29.5,59,89.5,120,150.5,181,212.5,243,273.5,304,334.5], "labels": false, "ticks": false, "gridColor": {"condition": {"test": "datum.value % 1 == 0", "value": "#DEDEDE"}, "value": "#EDEDED"}, "gridWidth": {"condition": {"test": "datum.value % 1 == 0", "value": 1.4}, "value": 0.8}}},
    "y": {"field": "v", "type": "quantitative", "scale": {"domain": [0.87, 76.4], "nice": false, "zero": false}, "axis": {"title": null, "values": [10,20,30,40,50,60], "labelExpr": "datum.value % 20 == 0 ? datum.label : ''", "labelOverlap": false, "tickSize": 9, "labelPadding": 7, "tickOpacity": {"condition": {"test": "datum.value % 20 == 0", "value": 1}, "value": 0}, "gridColor": {"condition": {"test": "datum.value % 20 == 0", "value": "#DEDEDE"}, "value": "#EDEDED"}, "gridWidth": {"condition": {"test": "datum.value % 20 == 0", "value": 1.4}, "value": 0.8}}},
    "color": {"field": "s", "type": "nominal", "scale": {"domain": ["Ghigiano","Padule","Piazza 40 Martiri","Semonte","Via L. da Vinci","Cortonese","Monte Martano"]}, "legend": null}}},
  {"transform": [{"filter": "isValid(datum.lab)"}], "mark": {"type": "rect", "fill": "#B3B3B3"}, "encoding": {"x": {"datum": 0, "type": "quantitative", "scale": {"domain": [0, 364], "nice": false, "zero": false}}, "x2": {"datum": 364}, "y": {"datum": 64.37, "type": "quantitative", "scale": {"domain": [0.87, 76.4], "nice": false, "zero": false}}, "y2": {"datum": 76.4}}},
  {"transform": [{"filter": "isValid(datum.lab)"}], "mark": {"type": "text", "color": "#FFFFFF", "fontSize": 38.5, "fontWeight": "bold", "align": "center", "baseline": "alphabetic", "font": "Liberation Sans"}, "encoding": {"x": {"datum": 182, "type": "quantitative", "scale": {"domain": [0, 364], "nice": false, "zero": false}}, "y": {"datum": 67.94, "type": "quantitative", "scale": {"domain": [0.87, 76.4], "nice": false, "zero": false}}, "text": {"field": "lab", "type": "nominal"}}},
  {"transform": [{"filter": "isValid(datum.m)"}], "mark": {"type": "line", "strokeWidth": 6, "interpolate": "monotone"}, "encoding": {"x": {"field": "d", "type": "quantitative", "scale": {"domain": [0, 364], "nice": false, "zero": false}}, "y": {"field": "m", "type": "quantitative", "scale": {"domain": [0.87, 76.4], "nice": false, "zero": false}}, "color": {"field": "s", "type": "nominal", "scale": {"domain": ["Ghigiano","Padule","Piazza 40 Martiri","Semonte","Via L. da Vinci","Cortonese","Monte Martano"]}, "legend": null}}}
]},
{"width": 558, "height": 402, "transform": [{"filter": "datum.s == 'Via L. da Vinci'"}], "layer": [
  {"transform": [{"filter": "isValid(datum.v)"}], "mark": {"type": "line", "strokeWidth": 1.6}, "encoding": {
    "x": {"field": "d", "type": "quantitative", "scale": {"domain": [0, 364], "nice": false, "zero": false}, "axis": {"title": null, "values": [0,29.5,59,89.5,120,150.5,181,212.5,243,273.5,304,334.5], "labelExpr": "datum.value == 0 ? 'gen' : datum.value == 59 ? 'mar' : datum.value == 120 ? 'mag' : datum.value == 181 ? 'lug' : datum.value == 243 ? 'set' : datum.value == 304 ? 'nov' : ''", "labelFlush": false, "labelOverlap": false, "tickSize": 8, "labelPadding": 7, "tickOpacity": {"condition": {"test": "datum.value % 1 == 0", "value": 1}, "value": 0}, "gridColor": {"condition": {"test": "datum.value % 1 == 0", "value": "#DEDEDE"}, "value": "#EDEDED"}, "gridWidth": {"condition": {"test": "datum.value % 1 == 0", "value": 1.4}, "value": 0.8}}},
    "y": {"field": "v", "type": "quantitative", "scale": {"domain": [0.87, 76.4], "nice": false, "zero": false}, "axis": {"title": null, "values": [10,20,30,40,50,60], "labels": false, "ticks": false, "gridColor": {"condition": {"test": "datum.value % 20 == 0", "value": "#DEDEDE"}, "value": "#EDEDED"}, "gridWidth": {"condition": {"test": "datum.value % 20 == 0", "value": 1.4}, "value": 0.8}}},
    "color": {"field": "s", "type": "nominal", "scale": {"domain": ["Ghigiano","Padule","Piazza 40 Martiri","Semonte","Via L. da Vinci","Cortonese","Monte Martano"]}, "legend": null}}},
  {"transform": [{"filter": "isValid(datum.lab)"}], "mark": {"type": "rect", "fill": "#B3B3B3"}, "encoding": {"x": {"datum": 0, "type": "quantitative", "scale": {"domain": [0, 364], "nice": false, "zero": false}}, "x2": {"datum": 364}, "y": {"datum": 64.37, "type": "quantitative", "scale": {"domain": [0.87, 76.4], "nice": false, "zero": false}}, "y2": {"datum": 76.4}}},
  {"transform": [{"filter": "isValid(datum.lab)"}], "mark": {"type": "text", "color": "#FFFFFF", "fontSize": 38.5, "fontWeight": "bold", "align": "center", "baseline": "alphabetic", "font": "Liberation Sans"}, "encoding": {"x": {"datum": 182, "type": "quantitative", "scale": {"domain": [0, 364], "nice": false, "zero": false}}, "y": {"datum": 67.94, "type": "quantitative", "scale": {"domain": [0.87, 76.4], "nice": false, "zero": false}}, "text": {"field": "lab", "type": "nominal"}}},
  {"transform": [{"filter": "isValid(datum.m)"}], "mark": {"type": "line", "strokeWidth": 6, "interpolate": "monotone"}, "encoding": {"x": {"field": "d", "type": "quantitative", "scale": {"domain": [0, 364], "nice": false, "zero": false}}, "y": {"field": "m", "type": "quantitative", "scale": {"domain": [0.87, 76.4], "nice": false, "zero": false}}, "color": {"field": "s", "type": "nominal", "scale": {"domain": ["Ghigiano","Padule","Piazza 40 Martiri","Semonte","Via L. da Vinci","Cortonese","Monte Martano"]}, "legend": null}}}
]},
{"width": 558, "height": 402, "transform": [{"filter": "datum.s == 'Cortonese'"}], "layer": [
  {"transform": [{"filter": "isValid(datum.v)"}], "mark": {"type": "line", "strokeWidth": 1.6}, "encoding": {
    "x": {"field": "d", "type": "quantitative", "scale": {"domain": [0, 364], "nice": false, "zero": false}, "axis": {"title": null, "values": [0,29.5,59,89.5,120,150.5,181,212.5,243,273.5,304,334.5], "labelExpr": "datum.value == 0 ? 'gen' : datum.value == 59 ? 'mar' : datum.value == 120 ? 'mag' : datum.value == 181 ? 'lug' : datum.value == 243 ? 'set' : datum.value == 304 ? 'nov' : ''", "labelFlush": false, "labelOverlap": false, "tickSize": 8, "labelPadding": 7, "tickOpacity": {"condition": {"test": "datum.value % 1 == 0", "value": 1}, "value": 0}, "gridColor": {"condition": {"test": "datum.value % 1 == 0", "value": "#DEDEDE"}, "value": "#EDEDED"}, "gridWidth": {"condition": {"test": "datum.value % 1 == 0", "value": 1.4}, "value": 0.8}}},
    "y": {"field": "v", "type": "quantitative", "scale": {"domain": [0.87, 76.4], "nice": false, "zero": false}, "axis": {"title": null, "values": [10,20,30,40,50,60], "labels": false, "ticks": false, "gridColor": {"condition": {"test": "datum.value % 20 == 0", "value": "#DEDEDE"}, "value": "#EDEDED"}, "gridWidth": {"condition": {"test": "datum.value % 20 == 0", "value": 1.4}, "value": 0.8}}},
    "color": {"field": "s", "type": "nominal", "scale": {"domain": ["Ghigiano","Padule","Piazza 40 Martiri","Semonte","Via L. da Vinci","Cortonese","Monte Martano"]}, "legend": null}}},
  {"transform": [{"filter": "isValid(datum.lab)"}], "mark": {"type": "rect", "fill": "#B3B3B3"}, "encoding": {"x": {"datum": 0, "type": "quantitative", "scale": {"domain": [0, 364], "nice": false, "zero": false}}, "x2": {"datum": 364}, "y": {"datum": 64.37, "type": "quantitative", "scale": {"domain": [0.87, 76.4], "nice": false, "zero": false}}, "y2": {"datum": 76.4}}},
  {"transform": [{"filter": "isValid(datum.lab)"}], "mark": {"type": "text", "color": "#FFFFFF", "fontSize": 38.5, "fontWeight": "bold", "align": "center", "baseline": "alphabetic", "font": "Liberation Sans"}, "encoding": {"x": {"datum": 182, "type": "quantitative", "scale": {"domain": [0, 364], "nice": false, "zero": false}}, "y": {"datum": 67.94, "type": "quantitative", "scale": {"domain": [0.87, 76.4], "nice": false, "zero": false}}, "text": {"field": "lab", "type": "nominal"}}},
  {"transform": [{"filter": "isValid(datum.m)"}], "mark": {"type": "line", "strokeWidth": 6, "interpolate": "monotone"}, "encoding": {"x": {"field": "d", "type": "quantitative", "scale": {"domain": [0, 364], "nice": false, "zero": false}}, "y": {"field": "m", "type": "quantitative", "scale": {"domain": [0.87, 76.4], "nice": false, "zero": false}}, "color": {"field": "s", "type": "nominal", "scale": {"domain": ["Ghigiano","Padule","Piazza 40 Martiri","Semonte","Via L. da Vinci","Cortonese","Monte Martano"]}, "legend": null}}},
  {"transform": [{"filter": "isValid(datum.lab)"}], "mark": {"type": "rect", "fill": "transparent", "stroke": "#FF0000", "strokeWidth": 12, "strokeJoin": "miter"}, "encoding": {"x": {"datum": -381, "type": "quantitative", "scale": {"domain": [0, 364], "nice": false, "zero": false}}, "x2": {"datum": 368.8}, "y": {"datum": 156.35, "type": "quantitative", "scale": {"domain": [0.87, 76.4], "nice": false, "zero": false}}, "y2": {"datum": 1.33}}}
]},
{"width": 558, "height": 402, "transform": [{"filter": "datum.s == 'Monte Martano'"}], "layer": [
  {"transform": [{"filter": "isValid(datum.v)"}], "mark": {"type": "line", "strokeWidth": 1.6}, "encoding": {
    "x": {"field": "d", "type": "quantitative", "scale": {"domain": [0, 364], "nice": false, "zero": false}, "axis": {"title": null, "values": [0,29.5,59,89.5,120,150.5,181,212.5,243,273.5,304,334.5], "labelExpr": "datum.value == 0 ? 'gen' : datum.value == 59 ? 'mar' : datum.value == 120 ? 'mag' : datum.value == 181 ? 'lug' : datum.value == 243 ? 'set' : datum.value == 304 ? 'nov' : ''", "labelFlush": false, "labelOverlap": false, "tickSize": 8, "labelPadding": 7, "tickOpacity": {"condition": {"test": "datum.value % 1 == 0", "value": 1}, "value": 0}, "gridColor": {"condition": {"test": "datum.value % 1 == 0", "value": "#DEDEDE"}, "value": "#EDEDED"}, "gridWidth": {"condition": {"test": "datum.value % 1 == 0", "value": 1.4}, "value": 0.8}}},
    "y": {"field": "v", "type": "quantitative", "scale": {"domain": [0.87, 76.4], "nice": false, "zero": false}, "axis": {"title": null, "values": [10,20,30,40,50,60], "labelExpr": "datum.value % 20 == 0 ? datum.label : ''", "labelOverlap": false, "tickSize": 9, "labelPadding": 7, "tickOpacity": {"condition": {"test": "datum.value % 20 == 0", "value": 1}, "value": 0}, "gridColor": {"condition": {"test": "datum.value % 20 == 0", "value": "#DEDEDE"}, "value": "#EDEDED"}, "gridWidth": {"condition": {"test": "datum.value % 20 == 0", "value": 1.4}, "value": 0.8}}},
    "color": {"field": "s", "type": "nominal", "scale": {"domain": ["Ghigiano","Padule","Piazza 40 Martiri","Semonte","Via L. da Vinci","Cortonese","Monte Martano"]}, "legend": null}}},
  {"transform": [{"filter": "isValid(datum.lab)"}], "mark": {"type": "rect", "fill": "#B3B3B3"}, "encoding": {"x": {"datum": 0, "type": "quantitative", "scale": {"domain": [0, 364], "nice": false, "zero": false}}, "x2": {"datum": 364}, "y": {"datum": 64.37, "type": "quantitative", "scale": {"domain": [0.87, 76.4], "nice": false, "zero": false}}, "y2": {"datum": 76.4}}},
  {"transform": [{"filter": "isValid(datum.lab)"}], "mark": {"type": "text", "color": "#FFFFFF", "fontSize": 38.5, "fontWeight": "bold", "align": "center", "baseline": "alphabetic", "font": "Liberation Sans"}, "encoding": {"x": {"datum": 182, "type": "quantitative", "scale": {"domain": [0, 364], "nice": false, "zero": false}}, "y": {"datum": 67.94, "type": "quantitative", "scale": {"domain": [0.87, 76.4], "nice": false, "zero": false}}, "text": {"field": "lab", "type": "nominal"}}},
  {"transform": [{"filter": "isValid(datum.m)"}], "mark": {"type": "line", "strokeWidth": 6, "interpolate": "monotone"}, "encoding": {"x": {"field": "d", "type": "quantitative", "scale": {"domain": [0, 364], "nice": false, "zero": false}}, "y": {"field": "m", "type": "quantitative", "scale": {"domain": [0.87, 76.4], "nice": false, "zero": false}}, "color": {"field": "s", "type": "nominal", "scale": {"domain": ["Ghigiano","Padule","Piazza 40 Martiri","Semonte","Via L. da Vinci","Cortonese","Monte Martano"]}, "legend": null}}}
]}
]
}
